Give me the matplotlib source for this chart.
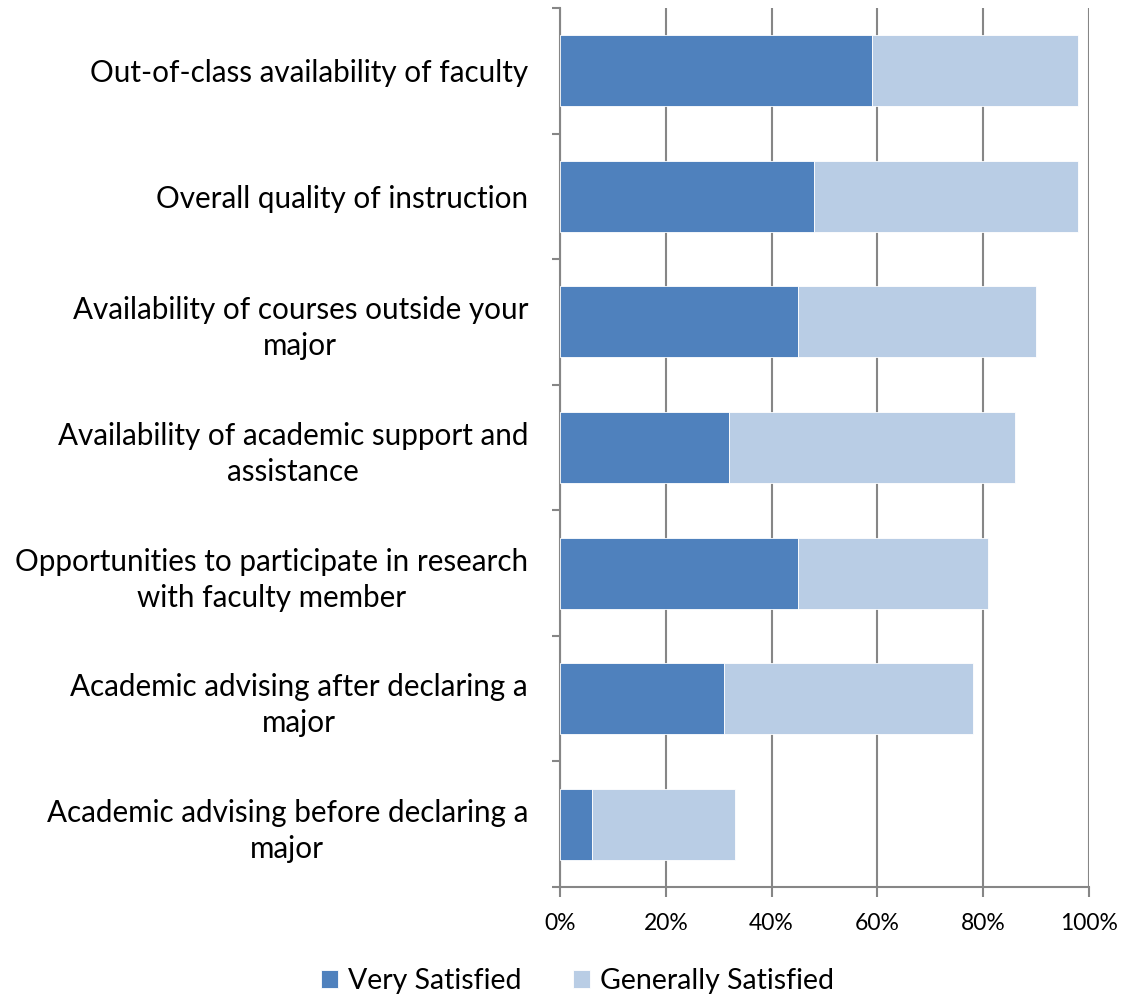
import matplotlib
matplotlib.use("Agg")
import matplotlib.pyplot as plt
from matplotlib.ticker import FixedLocator, PercentFormatter

categories = [
    "Out-of-class availability of faculty",
    "Overall quality of instruction",
    "Availability of courses outside your\nmajor",
    "Availability of academic support and\nassistance",
    "Opportunities to participate in research\nwith faculty member",
    "Academic advising after declaring a\nmajor",
    "Academic advising before declaring a\nmajor",
]
very_satisfied = [59, 48, 45, 32, 45, 31, 6]
generally_satisfied = [39, 50, 45, 54, 36, 47, 27]
x_ticks = [0, 20, 40, 60, 80, 100]
series_names = ["Very Satisfied", "Generally Satisfied"]

plt.rcParams['font.family'] = ['Lato', 'DejaVu Sans']

fig = plt.figure(figsize=(11.33, 9.98), dpi=100)
ax = fig.add_axes([560/1133, 1-887/998, (1089-560)/1133, (887-8)/998])

ypos = list(range(len(categories)))
h = 0.565
ax.barh(ypos, very_satisfied, height=h, color="#4F81BD", edgecolor="white",
        linewidth=0.6, label=series_names[0], zorder=3)
ax.barh(ypos, generally_satisfied, left=very_satisfied, height=h, color="#B9CDE5",
        edgecolor="white", linewidth=0.6, label=series_names[1], zorder=3)

ax.set_xlim(0, 100)
ax.set_ylim(len(categories)-0.5, -0.5)
ax.xaxis.set_major_locator(FixedLocator(x_ticks))
ax.xaxis.set_major_formatter(PercentFormatter(decimals=0))
ax.grid(axis="x", color="#868686", linewidth=1.5, zorder=0)

ax.set_yticks(ypos)
ax.set_yticklabels(categories)
for t in ax.get_yticklabels():
    t.set_multialignment("center")
    t.set_linespacing(1.35)
ax.set_yticks([i - 0.5 for i in range(len(categories)+1)], minor=True)
ax.tick_params(axis="y", which="major", length=0, pad=23, labelsize=21.3)
ax.tick_params(axis="y", which="minor", length=6, width=1.5, color="#868686")
ax.tick_params(axis="x", length=7, width=1.5, color="#868686", pad=12, labelsize=16.5)

for s in ["top", "right"]:
    ax.spines[s].set_visible(False)
ax.spines["left"].set_color("#868686")
ax.spines["left"].set_linewidth(1.5)
ax.spines["bottom"].set_color("#868686")
ax.spines["bottom"].set_linewidth(1.5)

fig.legend(loc="center", bbox_to_anchor=(0.51, 0.017), ncol=2, frameon=False,
           fontsize=20.5, handlelength=0.6, handleheight=0.6, handletextpad=0.35,
           columnspacing=1.8)

fig.savefig("out.png", dpi=100)
